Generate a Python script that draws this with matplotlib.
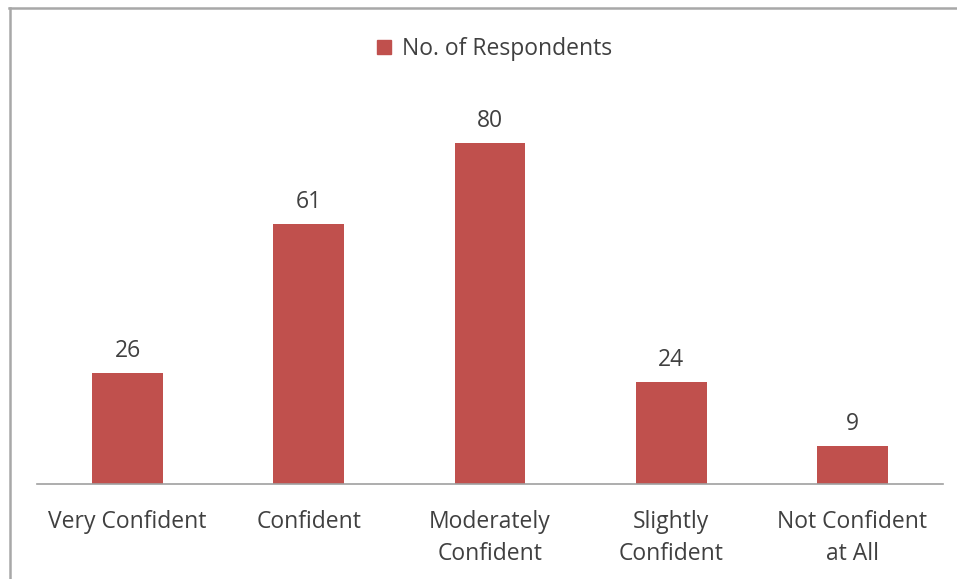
import numpy as np
import matplotlib
matplotlib.use("Agg")
from matplotlib import pyplot as plt
from matplotlib.lines import Line2D
import matplotlib.patches as mpatches

plt.rcParams['font.family'] = ['Open Sans', 'DejaVu Sans']

# Datos de la encuesta
categorias = ['Very Confident', 'Confident', 'Moderately\nConfident',
              'Slightly\nConfident', 'Not Confident\nat All']
respuestas = [26, 61, 80, 24, 9]
serie = 'No. of Respondents'

rojo = '#C0504D'
gris_texto = '#404040'
tam = 16.5

fig = plt.figure(figsize=(9.57, 5.79), dpi=100)
ax = fig.add_axes([37/957, 95/579, 906/957, 384/579])

x = np.arange(len(categorias))
barras = ax.bar(x, respuestas, width=0.39, color=rojo, label=serie, zorder=2)

# etiquetas de valor encima de cada barra
for xi, v in zip(x, respuestas):
    ax.annotate(str(v), (xi, v), xytext=(0, 7), textcoords='offset points',
                ha='center', va='bottom', fontsize=tam, color=gris_texto)

ax.set_xlim(-0.5, 4.5)
ax.set_ylim(0, 90)
ax.set_yticks([])
ax.set_xticks(x)
ax.set_xticklabels(categorias, fontsize=tam, color=gris_texto, linespacing=1.45)
ax.tick_params(axis='x', length=0, pad=19)
for lado in ['top', 'right', 'left']:
    ax.spines[lado].set_visible(False)
ax.spines['bottom'].set_color('#a0a0a0')
ax.spines['bottom'].set_linewidth(1.2)

# leyenda arriba al centro
parche = mpatches.Patch(color=rojo, label=serie)
fig.legend(handles=[parche], loc='center', bbox_to_anchor=(0.5 + 16/957, 1 - 49/579),
           frameon=False, fontsize=tam, handlelength=0.6, handleheight=0.6,
           handletextpad=0.5, labelcolor=gris_texto)

# marco del grafico (solo arriba e izquierda)
fig.add_artist(Line2D([9/957, 1.0], [1 - 8/579, 1 - 8/579], color='#a8a8a8', lw=1.8,
                      transform=fig.transFigure))
fig.add_artist(Line2D([10/957, 10/957], [0, 1 - 8/579], color='#a8a8a8', lw=1.8,
                      transform=fig.transFigure))

fig.savefig('out.png', dpi=100)
